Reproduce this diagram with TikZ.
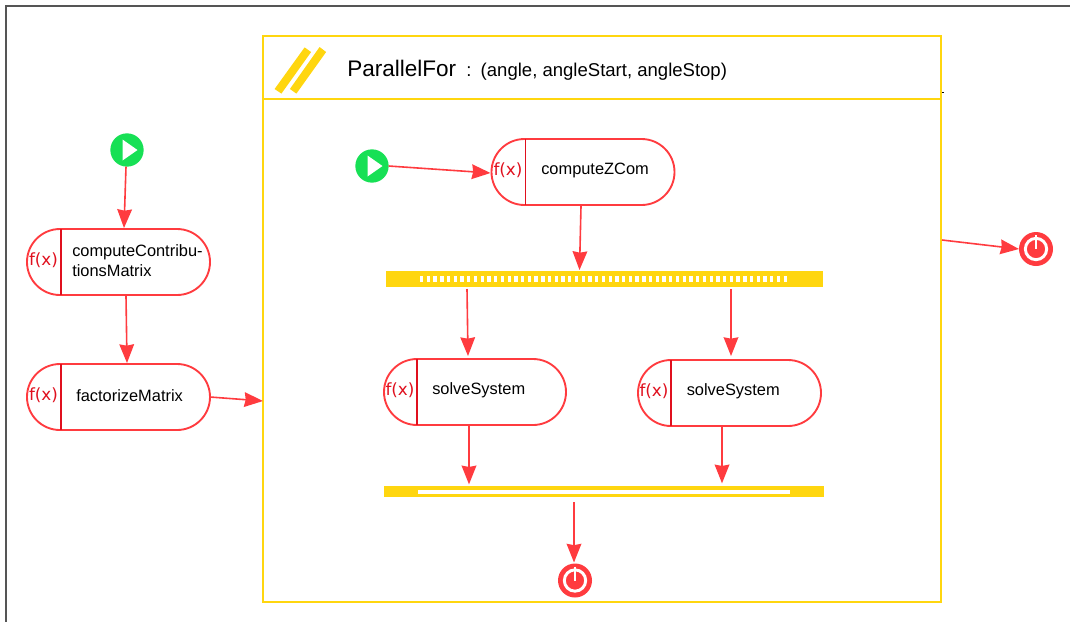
\documentclass[tikz,border=0pt]{standalone}
\usepackage{fontspec}
\setmainfont{Liberation Sans}
\newfontfamily\fxfont{DejaVu Sans}
\usetikzlibrary{arrows.meta,shapes.misc}
\definecolor{flowred}{HTML}{FF3B3F}
\definecolor{darkred}{HTML}{E0101E}
\definecolor{loopyellow}{HTML}{FFD60F}
\definecolor{startgreen}{HTML}{17E055}
\definecolor{framegray}{HTML}{555555}
\tikzset{
  pill/.style={rounded rectangle,draw=flowred,line width=1.4pt,fill=white,inner sep=0pt,outer sep=0pt,minimum height=49.5pt},
  pillA/.style={pill,minimum width=137.25pt},
  divider/.style={draw=darkred,line width=1pt},
  fxlabel/.style={text=darkred,font=\fxfont\fontsize{12.6}{15}\selectfont,inner sep=0pt},
  pilltext/.style={font=\fontsize{12.3}{15}\selectfont,text=black,inner sep=0pt,anchor=west,align=left},
  flow/.style={draw=flowred,line width=1.2pt,-{Stealth[length=14pt,width=11pt,inset=1pt,fill=flowred]}},
  bar/.style={rectangle,fill=loopyellow,draw=none,inner sep=0pt,outer sep=0pt},
  startdot/.style={circle,fill=startgreen,draw=none,minimum size=25pt,inner sep=0pt,outer sep=0pt},
  stopdot/.style={circle,fill=flowred,draw=none,minimum size=25.5pt,inner sep=0pt,outer sep=0pt},
  playtri/.style={fill=white,draw=none},
  ring/.style={draw=white,line width=2.2pt},
}
\newcommand{\playicon}[1]{%
  \fill[playtri] ([shift={(-4.5,-10.5)}]#1.center) -- ([shift={(10.5,0)}]#1.center) -- ([shift={(-4.5,10.5)}]#1.center) -- cycle;}
\newcommand{\stopicon}[1]{%
  \draw[ring] (#1.center) circle[radius=8pt];
  \draw[draw=white,line width=1.6pt] ([shift={(0,-14)}]#1.center) -- (#1.center);}
\begin{document}
\begin{tikzpicture}[x=0.75pt,y=-0.75pt]
\useasboundingbox (0,0) rectangle (1070,622);
\fill[white] (0,0) rectangle (1070,622);
% outer frame
\draw[framegray,line width=1.3pt] (1070,6) -- (6,6) -- (6,622);
% ParallelFor container
\node[rectangle,draw=loopyellow,line width=1.5pt,fill=white,inner sep=0pt,outer sep=0pt,minimum width=508.5pt,minimum height=424.5pt] (loop) at (602,319) {};
\draw[loopyellow,line width=0.9pt] ([shift={(0,63)}]loop.north west) -- ([shift={(0,63)}]loop.north east);
\fill[loopyellow] (274.6,89) -- (281.4,93.6) -- (311.1,52) -- (304.6,47.4) -- cycle;
\fill[loopyellow] (289.9,89) -- (296.4,93.6) -- (326.1,52) -- (319.6,47) -- cycle;
\draw[black,line width=0.6pt] ([shift={(1,56)}]loop.north east) -- ([shift={(3,56)}]loop.north east);
\node[font=\fontsize{16.9}{20}\selectfont,inner sep=0pt,anchor=base west] (title) at (347,76) {ParallelFor};
\node[font=\fontsize{13.9}{17}\selectfont,inner sep=0pt,anchor=base west] (params) at (466,76) {:\hspace{7pt}(angle, angleStart, angleStop)};
% activities
\node[pillA] (cc) at (118.5,262) {};
\node[pillA] (fm) at (118.5,397) {};
\node[pillA] (cz) at (583,172) {};
\node[pillA,minimum width=136.5pt] (ssa) at (475,392) {};
\node[pillA] (ssb) at (729.5,393) {};
\draw[divider] ([shift={(1,0)}]cc.north west) -- ([shift={(1,0)}]cc.south west);
\draw[divider] ([shift={(1,0)}]fm.north west) -- ([shift={(1,0)}]fm.south west);
\draw[divider] ([shift={(1,0)}]cz.north west) -- ([shift={(1,0)}]cz.south west);
\draw[divider] (ssa.north west) -- (ssa.south west);
\draw[divider] (ssb.north west) -- (ssb.south west);
\node[fxlabel] (fxa) at (43.5,260.5) {f(x)};
\node[fxlabel] (fxb) at (43.5,395.5) {f(x)};
\node[fxlabel] (fxc) at (508,170.5) {f(x)};
\node[fxlabel] (fxd) at (400,390.5) {f(x)};
\node[fxlabel] (fxe) at (654,391.5) {f(x)};
\node[pilltext] (tcc) at (72,261) {computeContribu-\\tionsMatrix};
\node[pilltext] (tfm) at (76,396) {factorizeMatrix};
\node[pilltext] (tcz) at (541,170) {computeZCom};
\node[pilltext] (tssa) at (432,390.5) {solveSystem};
\node[pilltext] (tssb) at (686.5,391.5) {solveSystem};
% fork and join bars
\node[bar,minimum width=327.75pt,minimum height=12pt] (fork) at (604.5,279) {};
\draw[white,line width=4.5pt,dash pattern=on 2.5pt off 2.55pt] (420,279) -- (787,279);
\node[bar,minimum width=330pt,minimum height=8.25pt] (join) at (604,491.8) {};
\fill[white] (418,490) rectangle (790,494);
% start and stop icons
\node[startdot] (starta) at (127,150) {};
\playicon{starta}
\node[startdot] (startb) at (372,166) {};
\playicon{startb}
\node[stopdot] (stopa) at (575,580.5) {};
\stopicon{stopa}
\node[stopdot] (stopb) at (1036,249) {};
\stopicon{stopb}
% connectors
\draw[flow] ([shift={(-1,0)}]starta.south) -- ([shift={(5.5,-1)}]cc.north);
\draw[flow] ([shift={(7.5,1)}]cc.south) -- ([shift={(8.5,-1)}]fm.north);
\draw[flow] (fm.east) -- ([shift={(0,82)}]loop.west);
\draw[flow] (startb.east) -- ([shift={(-1,1)}]cz.west);
\draw[flow] ([shift={(-2,1)}]cz.south) -- ([shift={(-25,-1)}]fork.north);
\draw[flow] ([shift={(-137.5,2)}]fork.south) -- ([shift={(-7,-3)}]ssa.north);
\draw[flow] ([shift={(126.5,2)}]fork.south) -- ([shift={(1.5,-4)}]ssb.north);
\draw[flow] ([shift={(-6,1)}]ssa.south) -- ([shift={(-135,-2)}]join.north);
\draw[flow] ([shift={(-7.5,1)}]ssb.south) -- ([shift={(118,-3)}]join.north);
\draw[flow] ([shift={(-30,5)}]join.south) -- ([shift={(-1,-1)}]stopa.north);
\draw[flow] ([shift={(1,-79)}]loop.east) -- (stopb.west);
\end{tikzpicture}
\end{document}
